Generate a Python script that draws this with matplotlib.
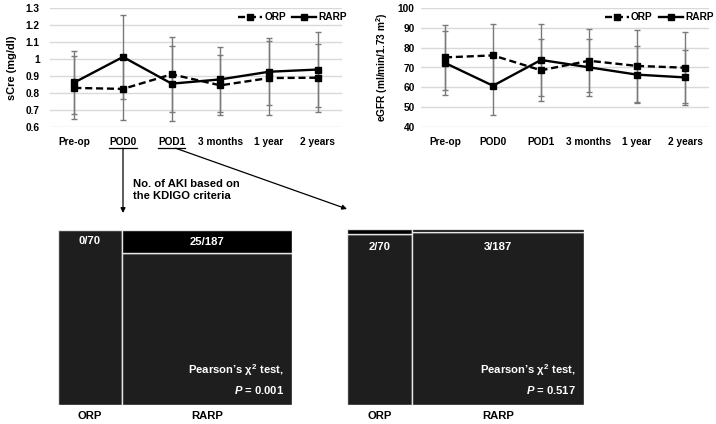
import matplotlib
matplotlib.use('Agg')
import matplotlib.pyplot as plt
import numpy as np

plt.rcParams['font.family'] = ['Liberation Sans', 'DejaVu Sans']
plt.rcParams['font.weight'] = 'bold'
plt.rcParams['mathtext.fontset'] = 'custom'
plt.rcParams['mathtext.it'] = 'Liberation Sans:italic:bold'
plt.rcParams['mathtext.rm'] = 'Liberation Sans:bold'

# ---------------- data ----------------
timepoints = ['Pre-op', 'POD0', 'POD1', '3 months', '1 year', '2 years']
scre_orp = [0.83, 0.824, 0.91, 0.845, 0.888, 0.89]
scre_orp_sd = [0.185, 0.18, 0.22, 0.177, 0.217, 0.2]
scre_rarp = [0.862, 1.012, 0.855, 0.88, 0.925, 0.938]
scre_rarp_sd = [0.185, 0.246, 0.22, 0.19, 0.196, 0.218]
scre_ticks = [0.6, 0.7, 0.8, 0.9, 1.0, 1.1, 1.2, 1.3]
scre_ticklabels = ['0.6', '0.7', '0.8', '0.9', '1', '1.1', '1.2', '1.3']

egfr_orp = [75.1, 76.1, 68.6, 73.4, 70.8, 69.9]
egfr_orp_sd = [16.3, 16.0, 15.6, 16.0, 18.1, 17.8]
egfr_rarp = [72.3, 60.8, 73.8, 70.1, 66.4, 65.0]
egfr_rarp_sd = [16.0, 14.6, 18.0, 14.5, 14.2, 14.0]
egfr_ticks = [40, 50, 60, 70, 80, 90, 100]

groups = ['ORP', 'RARP']
group_n = [70, 187]
aki_pod0 = [0, 25]
aki_pod1 = [2, 3]
p_pod0 = '0.001'
p_pod1 = '0.517'

FS = 7.3
FSB = 8.1
W, H = 716, 424
fig = plt.figure(figsize=(W / 100, H / 100), dpi=100)


def px_axes(l, t, r, b):
    return fig.add_axes([l / W, 1 - b / H, (r - l) / W, (b - t) / H])


def line_chart(ax, orp, orp_sd, rarp, rarp_sd, ticks, ticklabels, ylabel, ylim,
               ypad, ylabsize, ylabpad):
    x = np.arange(len(timepoints))
    ax.errorbar(x, orp, yerr=orp_sd, fmt='none', ecolor='#7a7a7a', elinewidth=1.0,
                capsize=2, capthick=1.0, zorder=2)
    ax.errorbar(x, rarp, yerr=rarp_sd, fmt='none', ecolor='#7a7a7a', elinewidth=1.0,
                capsize=2, capthick=1.0, zorder=2)
    ax.plot(x, orp, ls=(0, (3, 1.6)), color='black', lw=1.7, marker='s', ms=4,
            label='ORP', zorder=3)
    ax.plot(x, rarp, ls='-', color='black', lw=1.7, marker='s', ms=4,
            label='RARP', zorder=3)
    ax.set_xlim(-0.5, len(timepoints) - 0.5)
    ax.set_ylim(*ylim)
    ax.set_yticks(ticks)
    ax.set_yticklabels(ticklabels)
    ax.set_xticks(x)
    ax.set_xticklabels(timepoints)
    ax.tick_params(length=0, labelsize=FS)
    ax.tick_params(axis='y', pad=ypad)
    ax.tick_params(axis='x', pad=7)
    for s in ax.spines.values():
        s.set_visible(False)
    ax.yaxis.grid(True, color='#d9d9d9', lw=1.0)
    ax.set_axisbelow(True)
    ax.set_ylabel(ylabel, fontsize=ylabsize, fontweight='bold', labelpad=ylabpad)
    ax.legend(loc='upper right', bbox_to_anchor=(1.03, 1.0), ncol=2, frameon=False,
              handlelength=2.4, handletextpad=0.2, columnspacing=0.6,
              borderaxespad=0.0, prop={'weight': 'bold', 'size': FS})
    return ax


ax1 = px_axes(50, 8, 342, 127)
line_chart(ax1, scre_orp, scre_orp_sd, scre_rarp, scre_rarp_sd, scre_ticks,
           scre_ticklabels, 'sCre (mg/dl)', (0.6, 1.3), 7.5, 7.9, 6)

ax2 = px_axes(421, 8, 709, 127)
line_chart(ax2, egfr_orp, egfr_orp_sd, egfr_rarp, egfr_rarp_sd, egfr_ticks,
           [str(t) for t in egfr_ticks], 'eGFR (ml/min/1.73 m$^{2}$)', (40, 100),
           4.5, 7.3, 6)


def mosaic(ax, aki, p):
    total = sum(group_n)
    left = 0
    centers = []
    for name, n, a in zip(groups, group_n, aki):
        frac = a / n
        ax.bar(left, 1 - frac, width=n, bottom=0, align='edge', color='#1e1e1e',
               edgecolor='#e6e6e6', lw=1.0)
        if a > 0:
            ax.bar(left, frac, width=n, bottom=1 - frac, align='edge', color='black',
                   edgecolor='#e6e6e6', lw=1.0)
        centers.append(left + n / 2)
        left += n
    ax.set_xlim(0, total)
    ax.set_ylim(0, 1)
    ax.axis('off')
    for c, name, n, a in zip(centers, groups, group_n, aki):
        frac = a / n
        ytxt = 1 - 0.065 if frac < 0.05 else 1 - frac / 2
        if frac < 0.05 and a > 0:
            ytxt = 1 - 0.1
        ax.text(c, ytxt, f'{a}/{n}', color='white', ha='center', va='center',
                fontsize=FSB, fontweight='bold')
        ax.text(c, -0.065, name, color='black', ha='center', va='center',
                fontsize=FSB, fontweight='bold', clip_on=False)
    ax.text(0.965, 0.2, 'Pearson’s χ$^{2}$ test,', transform=ax.transAxes, color='white',
            ha='right', va='center', fontsize=FSB, fontweight='bold')
    ax.text(0.965, 0.085, f'$P$ = {p}', transform=ax.transAxes, color='white',
            ha='right', va='center', fontsize=FSB, fontweight='bold')


ax3 = px_axes(58, 230, 292, 405)
mosaic(ax3, aki_pod0, p_pod0)
ax4 = px_axes(347, 229, 584, 405)
mosaic(ax4, aki_pod1, p_pod1)

# underline POD0 / POD1 labels and draw arrows to the mosaic plots
fig.canvas.draw()
r = fig.canvas.get_renderer()
labels = ax1.get_xticklabels()
starts = []
for lab in labels[1:3]:
    bb = lab.get_window_extent(r)
    yline = bb.y0 - 1.5
    fig.add_artist(plt.Line2D([bb.x0 / W, bb.x1 / W], [yline / H, yline / H],
                              color='black', lw=0.9, transform=fig.transFigure))
    starts.append(((bb.x0 + bb.x1) / 2, yline))

# arrow 1: straight down from POD0
x0, y0 = starts[0]
fig.add_artist(matplotlib.patches.FancyArrowPatch(
    (x0 / W, y0 / H), (x0 / W, 1 - 213 / H), transform=fig.transFigure,
    arrowstyle='-|>', mutation_scale=7, color='black', lw=0.9, shrinkA=0, shrinkB=0))
# arrow 2: from POD1 to second mosaic
x1, y1 = starts[1]
fig.add_artist(matplotlib.patches.FancyArrowPatch(
    ((x1 + 4) / W, y1 / H), (347 / W, 1 - 209 / H), transform=fig.transFigure,
    arrowstyle='-|>', mutation_scale=7, color='black', lw=0.9, shrinkA=0, shrinkB=0))

fig.text(133 / W, 1 - 190 / H, 'No. of AKI based on\nthe KDIGO criteria', ha='left',
         va='center', fontsize=FSB, fontweight='bold', linespacing=1.25)

fig.savefig('out.png', dpi=100)
